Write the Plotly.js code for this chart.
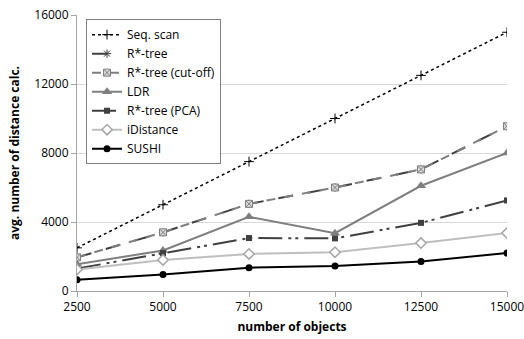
<!DOCTYPE html>
<html><head><meta charset="utf-8">
<script src="https://cdn.plot.ly/plotly-3.0.1.min.js"></script>
<style>html,body{margin:0;padding:0;background:#fff}#chart{width:524px;height:339px}</style>
</head><body><div id="chart"></div>
<script>
const objects = [2500, 5000, 7500, 10000, 12500, 15000];
const seqScan = [2500, 5000, 7500, 10000, 12500, 15000];
const rstar = [1950, 3400, 5050, 6000, 7050, 9550];
const rstarCutoff = [1950, 3400, 5050, 6000, 7050, 9550];
const ldr = [1550, 2350, 4300, 3350, 6100, 8000];
const rstarPCA = [1300, 2200, 3070, 3050, 3950, 5250];
const iDistance = [1250, 1800, 2150, 2250, 2780, 3360];
const sushi = [650, 950, 1350, 1450, 1710, 2200];
const seriesNames = ['Seq. scan', 'R*-tree', 'R*-tree (cut-off)', 'LDR', 'R*-tree (PCA)', 'iDistance', 'SUSHI'];

const styles = [
  {line:{color:'#000000', dash:'dot', width:1.5}, marker:{symbol:'cross-thin', size:7, color:'#000000', line:{color:'#000000', width:1}}},
  {line:{color:'#404040', dash:'longdash', width:2}, marker:{symbol:'asterisk', size:7, color:'#404040', line:{color:'#404040', width:1}}},
  {line:{color:'#7f7f7f', dash:'dash', width:2}, marker:{symbol:'square-x', size:7, color:'#d9d9d9', line:{color:'#7f7f7f', width:1}}},
  {line:{color:'#7f7f7f', dash:'solid', width:2}, marker:{symbol:'triangle-up', size:9, color:'#7f7f7f', line:{width:0}}},
  {line:{color:'#404040', dash:'24px,6px,3px,4px,3px,6px', width:2}, marker:{symbol:'square', size:6, color:'#404040', line:{width:0}}},
  {line:{color:'#bfbfbf', dash:'solid', width:2}, marker:{symbol:'diamond', size:8, color:'#ffffff', line:{color:'#a6a6a6', width:1.5}}},
  {line:{color:'#000000', dash:'solid', width:2}, marker:{symbol:'circle', size:7, color:'#000000', line:{width:0}}}
];
const values = [seqScan, rstar, rstarCutoff, ldr, rstarPCA, iDistance, sushi];

const traces = values.map((v, i) => ({
  x: objects.map(String), y: v, name: seriesNames[i], type: 'scatter', mode: 'lines+markers',
  line: styles[i].line, marker: styles[i].marker
}));

const layout = {
  width: 524, height: 339,
  margin: {l: 77, r: 17, t: 15, b: 48},
  paper_bgcolor: '#ffffff', plot_bgcolor: '#ffffff',
  font: {family: 'Open Sans, Liberation Sans, sans-serif', size: 12, color: '#000'},
  showlegend: true,
  legend: {x: 0.021, y: 0.985, xanchor: 'left', yanchor: 'top', bgcolor: '#ffffff', bordercolor: '#808080', borderwidth: 1,
    font: {size: 12, color: '#000'}, tracegroupgap: 0, itemwidth: 30},
  xaxis: {
    type: 'category', range: [0, 5], showgrid: false, zeroline: false,
    showline: true, linecolor: '#a6a6a6', linewidth: 1, ticks: 'outside', ticklen: 5, tickcolor: '#a6a6a6',
    tickfont: {size: 12}, title: {text: 'number of objects', font: {size: 12, family: 'Open Sans, sans-serif', weight: 'bold'}, standoff: 8}
  },
  yaxis: {
    range: [0, 16000], dtick: 4000, tick0: 0, tickformat: 'd', showgrid: true, gridcolor: '#d9d9d9', zeroline: false,
    showline: true, linecolor: '#a6a6a6', linewidth: 1, ticks: 'outside', ticklen: 5, tickcolor: '#a6a6a6',
    tickfont: {size: 12}, title: {text: 'avg. number of distance calc.', font: {size: 12, family: 'Open Sans, sans-serif', weight: 'bold'}, standoff: 12}
  }
};
Plotly.newPlot('chart', traces, layout, {displayModeBar: false, staticPlot: true});
</script></body></html>
